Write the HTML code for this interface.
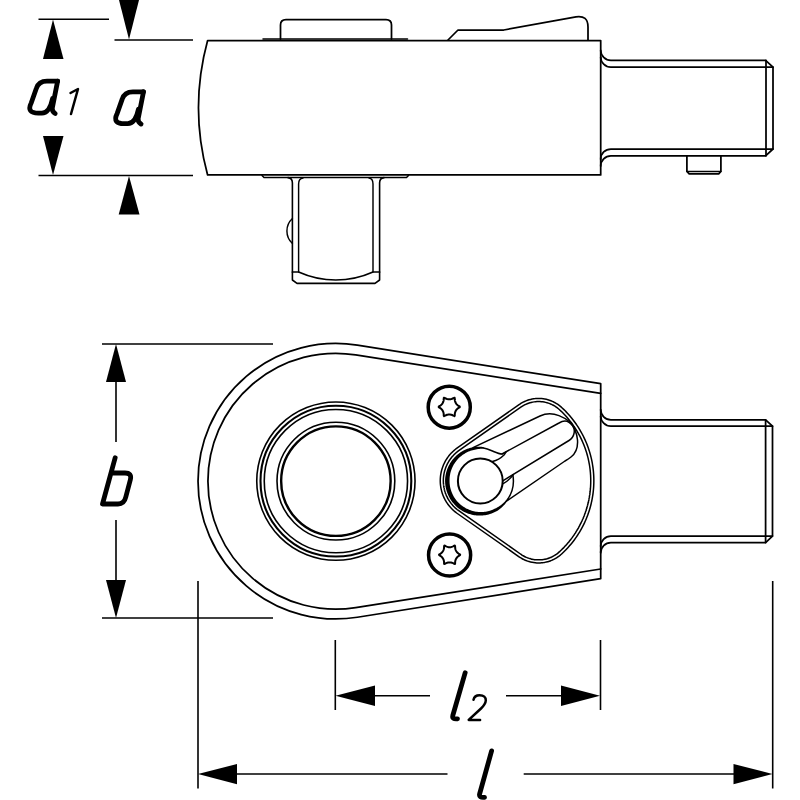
<!DOCTYPE html>
<html>
<head>
<meta charset="utf-8">
<title>Ratchet insert tool - dimension drawing</title>
<style>
  html, body { margin: 0; padding: 0; background: #ffffff; }
  body { width: 800px; height: 800px; overflow: hidden; font-family: "Liberation Sans", sans-serif; }
  svg { display: block; }
  .o  { fill: none; stroke: #000; stroke-width: 1.75; stroke-linecap: round; stroke-linejoin: round; }
  .t  { fill: none; stroke: #000; stroke-width: 1.5; stroke-linecap: round; stroke-linejoin: round; }
  .d  { fill: none; stroke: #000; stroke-width: 1.6; stroke-linecap: butt; }
  .k  { fill: none; stroke: #000; stroke-width: 3.5; stroke-linecap: round; }
  .ar { fill: #000; stroke: none; }
  .L  { fill: none; stroke: #000; stroke-width: 4.8; stroke-linecap: round; stroke-linejoin: round; }
  .S  { fill: none; stroke: #000; stroke-width: 2.5; stroke-linecap: round; stroke-linejoin: round; }
</style>
</head>
<body>
<svg width="800" height="800" viewBox="0 0 800 800">
<rect x="0" y="0" width="800" height="800" fill="#ffffff"/>

<!-- ============ SIDE VIEW (top) ============ -->
<g id="side">
  <!-- main body -->
  <path class="o" d="M207.6,40.5 L600.7,40.5 L600.7,174.9 L207.6,174.9 A256,256 0 0 1 207.6,40.5 Z"/>
  <!-- top button -->
  <path class="o" d="M280.5,39 L280.5,25 Q280.5,19.5 286,19.5 L386,19.5 Q391.5,19.5 391.5,25 L391.5,39"/>
  <path class="t" d="M263,39 L407.5,39"/>
  <!-- lever -->
  <path class="o" d="M448,40 L458,30 L503.75,30 L576,16.8 Q588,15 588,27 L588,40"/>
  <!-- shaft -->
  <path class="o" d="M600.7,50.3 A10.2,10.2 0 0 0 610.9,60.4 L765.6,60.4 L773,67.2 L773,149 L765.6,155.8 L610.9,155.8 A10.2,10.2 0 0 0 600.7,166"/>
  <path class="o" d="M600.7,57 A10.2,10.2 0 0 0 610.9,67.2 L773,67.2"/>
  <path class="o" d="M600.7,159.2 A10.2,10.2 0 0 1 610.9,149 L773,149"/>
  <path class="o" d="M766,60.4 L766,155.8"/>
  <!-- pin -->
  <path class="o" d="M686.9,155.8 L686.9,171.4 L689.2,173.8 L718.7,173.8 L720.9,171.4 L720.9,155.8"/>
  <path class="t" d="M686.9,171.4 L720.9,171.4"/>
  <!-- bottom plate -->
  <path class="t" d="M262,175.5 L264,177.6 L406.5,177.6 L408.5,175.5"/>
  <!-- square drive -->
  <g style="stroke-width:1.45">
  <path class="o" style="stroke-width:1.6" d="M288,177.6 Q292.4,178 292.4,183 L292.4,280 L297,283.4 L375,283.4 L379.6,280 L379.6,183 Q379.6,178 384,177.6"/>
  <path class="o" style="stroke-width:inherit" d="M303,178 Q298.6,178.5 298.6,184 L298.6,272"/>
  <path class="o" style="stroke-width:inherit" d="M369,178 Q373,178.5 373,184 L373,272"/>
  <path class="o" style="stroke-width:1.7" d="M292.4,272 L298.6,272 A90.5,90.5 0 0 0 373,272 L379.6,272"/>
  <path class="o" style="stroke-width:inherit" d="M292.4,218.5 A17,17 0 0 0 292.4,243.5"/>
  </g>
</g>

<!-- ============ PLAN VIEW (bottom) ============ -->
<g id="plan">
  <!-- outer profile -->
  <path class="o" d="M600.7,383.7 L357.35,345.15 A137.75,137.75 0 1 0 357.35,617.25 L600.7,578.7 Z"/>
  <path class="o" d="M600.7,393.4 L355.68,354.85 A127.9,127.9 0 1 0 355.68,607.55 L600.7,569"/>
  <!-- shaft -->
  <path class="o" d="M600.7,409.6 A10.2,10.2 0 0 0 610.9,419.8 L765.6,419.8 L772.5,426.2 L772.5,536.1 L765.6,542.6 L610.9,542.6 A10.2,10.2 0 0 0 600.7,552.8"/>
  <path class="o" d="M600.7,416 A10.2,10.2 0 0 0 610.9,426.2 L772.5,426.2"/>
  <path class="o" d="M600.7,546.3 A10.2,10.2 0 0 1 610.9,536.1 L772.5,536.1"/>
  <path class="o" d="M765.6,419.8 L765.6,542.6"/>
  <!-- drive rings -->
  <g fill="none" stroke="#000">
    <circle cx="335.9" cy="481.1" r="79.15" stroke-width="1.6"/>
    <circle cx="335.9" cy="481.1" r="75.4" stroke-width="2.1"/>
    <circle cx="335.9" cy="481.1" r="71.65" stroke-width="1.6"/>
    <circle cx="335.9" cy="481.1" r="58.9" stroke-width="1.6"/>
    <circle cx="335.9" cy="481.1" r="54.75" stroke-width="2.4"/>
  </g>
  <!-- screws -->
  <circle class="k" cx="449.25" cy="407.2" r="21.05"/>
  <circle class="k" cx="449.6" cy="555" r="21.05"/>
  <path class="t" style="stroke-width:2.0" d="M458.72,407.82 L458.19,408.15 L457.68,408.54 L457.2,408.96 L456.76,409.41 L456.36,409.91 L456,410.43 L455.68,410.98 L455.41,411.55 L455.18,412.15 L455.01,412.76 L454.88,413.38 L454.8,414.01 L454.78,414.65 Q455.16,417.14 453.19,415.56 L452.63,415.27 L452.05,415.02 L451.45,414.81 L450.83,414.66 L450.2,414.56 L449.57,414.51 L448.93,414.51 L448.3,414.56 L447.67,414.66 L447.05,414.81 L446.45,415.02 L445.87,415.27 L445.31,415.56 Q443.34,417.14 443.72,414.65 L443.7,414.01 L443.62,413.38 L443.49,412.76 L443.32,412.15 L443.09,411.55 L442.82,410.98 L442.5,410.43 L442.14,409.91 L441.74,409.41 L441.3,408.96 L440.82,408.54 L440.31,408.15 L439.78,407.82 Q437.43,406.9 439.78,405.98 L440.31,405.65 L440.82,405.26 L441.3,404.84 L441.74,404.39 L442.14,403.89 L442.5,403.37 L442.82,402.82 L443.09,402.25 L443.32,401.65 L443.49,401.04 L443.62,400.42 L443.7,399.79 L443.72,399.15 Q443.34,396.66 445.31,398.24 L445.87,398.53 L446.45,398.78 L447.05,398.99 L447.67,399.14 L448.3,399.24 L448.93,399.29 L449.57,399.29 L450.2,399.24 L450.83,399.14 L451.45,398.99 L452.05,398.78 L452.63,398.53 L453.19,398.24 Q455.16,396.66 454.78,399.15 L454.8,399.79 L454.88,400.42 L455.01,401.04 L455.18,401.65 L455.41,402.25 L455.68,402.82 L456,403.37 L456.36,403.89 L456.76,404.39 L457.2,404.84 L457.68,405.26 L458.19,405.65 L458.72,405.98 Q461.07,406.9 458.72,407.82 Z"/>
  <path class="t" style="stroke-width:2.0" d="M459.07,555.72 L458.54,556.05 L458.03,556.44 L457.55,556.86 L457.11,557.31 L456.71,557.81 L456.35,558.33 L456.03,558.88 L455.76,559.45 L455.53,560.05 L455.36,560.66 L455.23,561.28 L455.15,561.91 L455.13,562.55 Q455.51,565.04 453.54,563.46 L452.98,563.17 L452.4,562.92 L451.8,562.71 L451.18,562.56 L450.55,562.46 L449.92,562.41 L449.28,562.41 L448.65,562.46 L448.02,562.56 L447.4,562.71 L446.8,562.92 L446.22,563.17 L445.66,563.46 Q443.69,565.04 444.07,562.55 L444.05,561.91 L443.97,561.28 L443.84,560.66 L443.67,560.05 L443.44,559.45 L443.17,558.88 L442.85,558.33 L442.49,557.81 L442.09,557.31 L441.65,556.86 L441.17,556.44 L440.66,556.05 L440.13,555.72 Q437.78,554.8 440.13,553.88 L440.66,553.55 L441.17,553.16 L441.65,552.74 L442.09,552.29 L442.49,551.79 L442.85,551.27 L443.17,550.72 L443.44,550.15 L443.67,549.55 L443.84,548.94 L443.97,548.32 L444.05,547.69 L444.07,547.05 Q443.69,544.56 445.66,546.14 L446.22,546.43 L446.8,546.68 L447.4,546.89 L448.02,547.04 L448.65,547.14 L449.28,547.19 L449.92,547.19 L450.55,547.14 L451.18,547.04 L451.8,546.89 L452.4,546.68 L452.98,546.43 L453.54,546.14 Q455.51,544.56 455.13,547.05 L455.15,547.69 L455.23,548.32 L455.36,548.94 L455.53,549.55 L455.76,550.15 L456.03,550.72 L456.35,551.27 L456.71,551.79 L457.11,552.29 L457.55,552.74 L458.03,553.16 L458.54,553.55 L459.07,553.88 Q461.42,554.8 459.07,555.72 Z"/>
  <!-- lever housing (double line) -->
  <path d="M441.8,480.7 L441.82,479.43 L441.88,478.15 L441.99,476.89 L442.14,475.62 L442.33,474.36 L442.56,473.11 L442.83,471.86 L443.14,470.63 L443.49,469.41 L443.89,468.19 L444.32,467 L444.79,465.81 L445.31,464.65 L445.86,463.5 L446.44,462.37 L447.07,461.26 L447.73,460.17 L448.43,459.11 L449.16,458.06 L449.92,457.05 L450.72,456.05 L451.55,455.09 L452.42,454.15 L453.31,453.24 L454.23,452.37 L455.18,451.52 L456.16,450.71 L457.17,449.92 L458.2,449.18 L519.94,405.89 L521.21,405.05 L522.51,404.27 L523.84,403.54 L525.21,402.89 L526.6,402.3 L528.03,401.77 L529.47,401.31 L530.94,400.92 L532.42,400.59 L533.91,400.34 L535.42,400.16 L536.93,400.04 L538.45,400 L539.96,400.03 L541.48,400.13 L542.99,400.3 L544.48,400.54 L545.97,400.85 L547.44,401.22 L548.89,401.67 L550.31,402.18 L551.72,402.76 L553.09,403.41 L554.43,404.12 L555.74,404.89 L557.01,405.72 L558.24,406.6 L559.42,407.55 L560.57,408.55 L562.6,410.47 L564.58,412.44 L566.5,414.48 L568.36,416.56 L570.17,418.7 L571.91,420.89 L573.58,423.13 L575.19,425.42 L576.74,427.75 L578.22,430.12 L579.63,432.54 L580.97,434.99 L582.24,437.48 L583.44,440.01 L584.57,442.57 L585.62,445.16 L586.6,447.79 L587.5,450.43 L588.33,453.11 L589.08,455.8 L589.75,458.52 L590.35,461.25 L590.86,464 L591.3,466.76 L591.66,469.53 L591.94,472.32 L592.14,475.11 L592.26,477.9 L592.3,480.7 L592.26,483.5 L592.14,486.29 L591.94,489.08 L591.66,491.87 L591.3,494.64 L590.86,497.4 L590.35,500.15 L589.75,502.88 L589.08,505.6 L588.33,508.29 L587.5,510.97 L586.6,513.61 L585.62,516.24 L584.57,518.83 L583.44,521.39 L582.24,523.92 L580.97,526.41 L579.63,528.86 L578.22,531.28 L576.74,533.65 L575.19,535.98 L573.58,538.27 L571.91,540.51 L570.17,542.7 L568.36,544.84 L566.5,546.92 L564.58,548.96 L562.6,550.93 L560.57,552.85 L559.42,553.85 L558.24,554.8 L557.01,555.68 L555.74,556.51 L554.43,557.28 L553.09,557.99 L551.72,558.64 L550.31,559.22 L548.89,559.73 L547.44,560.18 L545.97,560.55 L544.48,560.86 L542.99,561.1 L541.48,561.27 L539.96,561.37 L538.45,561.4 L536.93,561.36 L535.42,561.24 L533.91,561.06 L532.42,560.81 L530.94,560.48 L529.47,560.09 L528.03,559.63 L526.6,559.1 L525.21,558.51 L523.84,557.86 L522.51,557.13 L521.21,556.35 L519.94,555.51 L458.2,512.22 L457.17,511.48 L456.16,510.69 L455.18,509.88 L454.23,509.03 L453.31,508.16 L452.42,507.25 L451.55,506.31 L450.72,505.35 L449.92,504.35 L449.16,503.34 L448.43,502.29 L447.73,501.23 L447.07,500.14 L446.44,499.03 L445.86,497.9 L445.31,496.75 L444.79,495.59 L444.32,494.4 L443.89,493.21 L443.49,491.99 L443.14,490.77 L442.83,489.54 L442.56,488.29 L442.33,487.04 L442.14,485.78 L441.99,484.51 L441.88,483.25 L441.82,481.97 Z" fill="#fff" stroke="#000" stroke-width="4.6" stroke-linejoin="round"/>
  <path d="M441.8,480.7 L441.82,479.43 L441.88,478.15 L441.99,476.89 L442.14,475.62 L442.33,474.36 L442.56,473.11 L442.83,471.86 L443.14,470.63 L443.49,469.41 L443.89,468.19 L444.32,467 L444.79,465.81 L445.31,464.65 L445.86,463.5 L446.44,462.37 L447.07,461.26 L447.73,460.17 L448.43,459.11 L449.16,458.06 L449.92,457.05 L450.72,456.05 L451.55,455.09 L452.42,454.15 L453.31,453.24 L454.23,452.37 L455.18,451.52 L456.16,450.71 L457.17,449.92 L458.2,449.18 L519.94,405.89 L521.21,405.05 L522.51,404.27 L523.84,403.54 L525.21,402.89 L526.6,402.3 L528.03,401.77 L529.47,401.31 L530.94,400.92 L532.42,400.59 L533.91,400.34 L535.42,400.16 L536.93,400.04 L538.45,400 L539.96,400.03 L541.48,400.13 L542.99,400.3 L544.48,400.54 L545.97,400.85 L547.44,401.22 L548.89,401.67 L550.31,402.18 L551.72,402.76 L553.09,403.41 L554.43,404.12 L555.74,404.89 L557.01,405.72 L558.24,406.6 L559.42,407.55 L560.57,408.55 L562.6,410.47 L564.58,412.44 L566.5,414.48 L568.36,416.56 L570.17,418.7 L571.91,420.89 L573.58,423.13 L575.19,425.42 L576.74,427.75 L578.22,430.12 L579.63,432.54 L580.97,434.99 L582.24,437.48 L583.44,440.01 L584.57,442.57 L585.62,445.16 L586.6,447.79 L587.5,450.43 L588.33,453.11 L589.08,455.8 L589.75,458.52 L590.35,461.25 L590.86,464 L591.3,466.76 L591.66,469.53 L591.94,472.32 L592.14,475.11 L592.26,477.9 L592.3,480.7 L592.26,483.5 L592.14,486.29 L591.94,489.08 L591.66,491.87 L591.3,494.64 L590.86,497.4 L590.35,500.15 L589.75,502.88 L589.08,505.6 L588.33,508.29 L587.5,510.97 L586.6,513.61 L585.62,516.24 L584.57,518.83 L583.44,521.39 L582.24,523.92 L580.97,526.41 L579.63,528.86 L578.22,531.28 L576.74,533.65 L575.19,535.98 L573.58,538.27 L571.91,540.51 L570.17,542.7 L568.36,544.84 L566.5,546.92 L564.58,548.96 L562.6,550.93 L560.57,552.85 L559.42,553.85 L558.24,554.8 L557.01,555.68 L555.74,556.51 L554.43,557.28 L553.09,557.99 L551.72,558.64 L550.31,559.22 L548.89,559.73 L547.44,560.18 L545.97,560.55 L544.48,560.86 L542.99,561.1 L541.48,561.27 L539.96,561.37 L538.45,561.4 L536.93,561.36 L535.42,561.24 L533.91,561.06 L532.42,560.81 L530.94,560.48 L529.47,560.09 L528.03,559.63 L526.6,559.1 L525.21,558.51 L523.84,557.86 L522.51,557.13 L521.21,556.35 L519.94,555.51 L458.2,512.22 L457.17,511.48 L456.16,510.69 L455.18,509.88 L454.23,509.03 L453.31,508.16 L452.42,507.25 L451.55,506.31 L450.72,505.35 L449.92,504.35 L449.16,503.34 L448.43,502.29 L447.73,501.23 L447.07,500.14 L446.44,499.03 L445.86,497.9 L445.31,496.75 L444.79,495.59 L444.32,494.4 L443.89,493.21 L443.49,491.99 L443.14,490.77 L442.83,489.54 L442.56,488.29 L442.33,487.04 L442.14,485.78 L441.99,484.51 L441.88,483.25 L441.82,481.97 Z" fill="none" stroke="#fff" stroke-width="1.6" stroke-linejoin="round"/>
  <!-- lever -->
  <g id="lever">
    <path d="M483.83,447.19 L482.66,447.01 L481.48,446.87 L480.3,446.77 L479.11,446.71 L477.92,446.7 L476.72,446.73 L475.52,446.79 L474.33,446.95 L473.15,447.15 L471.97,447.4 L470.8,447.68 L469.65,448.01 L468.5,448.38 L467.36,448.78 L466.24,449.23 L465.14,449.72 L464.05,450.24 L462.99,450.81 L461.94,451.42 L460.91,452.06 L459.91,452.73 L458.93,453.45 L457.97,454.19 L457.04,454.97 L456.14,455.78 L455.27,456.63 L454.43,457.5 L453.61,458.41 L452.83,459.34 L452.08,460.3 L451.37,461.28 L450.68,462.29 L450.04,463.33 L449.43,464.39 L448.86,465.46 L448.32,466.56 L447.82,467.68 L447.37,468.81 L446.95,469.96 L446.57,471.13 L446.23,472.31 L445.94,473.5 L445.68,474.7 L445.47,475.9 L445.3,477.12 L445.17,478.34 L445.08,479.57 L445.05,480.8 L445.08,482.03 L445.15,483.26 L445.26,484.48 L445.42,485.7 L445.62,486.92 L445.86,488.12 L446.14,489.32 L446.47,490.5 L446.83,491.67 L447.24,492.83 L447.69,493.98 L448.17,495.1 L448.7,496.21 L449.26,497.31 L449.86,498.38 L450.5,499.42 L451.17,500.45 L451.88,501.45 L452.62,502.42 L453.4,503.37 L454.21,504.29 L455.05,505.19 L455.92,506.05 L456.82,506.88 L457.75,507.68 L458.7,508.44 L459.68,509.17 L460.69,509.87 L461.72,510.53 L462.77,511.16 L463.85,511.74 L464.95,512.28 L466.06,512.78 L467.19,513.24 L468.34,513.66 L469.5,514.03 L470.67,514.37 L471.86,514.67 L473.05,514.92 L474.25,515.14 L475.45,515.31 L476.66,515.44 L477.87,515.53 L479.09,515.57 L480.3,515.57 L481.51,515.53 L482.72,515.45 L483.93,515.32 L485.13,515.16 L486.32,514.95 L487.51,514.7 L488.68,514.41 L489.84,514.08 L490.99,513.7 L492.13,513.29 L493.25,512.84 L494.35,512.35 L495.43,511.83 L496.5,511.26 L497.52,510.63 L498.52,509.96 L499.49,509.25 L500.43,508.51 L501.35,507.74 L502.24,506.94 L503.09,506.12 L503.92,505.26 L504.71,504.38 L505.47,503.47 L506.2,502.53 L506.9,501.58 L505.71,500.66 L504.96,501.49 L504.17,502.3 L503.36,503.07 L502.53,503.82 L501.67,504.53 L500.79,505.22 L499.88,505.87 L498.96,506.48 L498.02,507.07 L497.06,507.62 L496.08,508.13 L495.09,508.61 L494.1,509.09 L493.1,509.54 L492.08,509.95 L491.05,510.33 L490,510.66 L488.95,510.97 L487.89,511.23 L486.82,511.46 L485.74,511.65 L484.66,511.8 L483.57,511.91 L482.48,511.99 L481.39,512.03 L480.3,512.03 L479.21,511.99 L478.12,511.91 L477.04,511.8 L475.96,511.65 L474.89,511.46 L473.83,511.23 L472.78,510.97 L471.73,510.67 L470.7,510.34 L469.69,509.96 L468.68,509.56 L467.69,509.12 L466.72,508.64 L465.77,508.14 L464.83,507.6 L463.9,507.04 L463,506.45 L462.12,505.82 L461.26,505.17 L460.43,504.48 L459.62,503.77 L458.83,503.03 L458.08,502.26 L457.35,501.47 L456.64,500.65 L455.97,499.81 L455.33,498.94 L454.71,498.06 L454.13,497.15 L453.58,496.22 L453.07,495.28 L452.58,494.32 L452.14,493.34 L451.72,492.35 L451.34,491.34 L451,490.32 L450.69,489.29 L450.42,488.25 L450.18,487.2 L449.98,486.15 L449.82,485.08 L449.7,484.02 L449.61,482.95 L449.56,481.87 L449.55,480.8 L449.56,479.73 L449.59,478.65 L449.66,477.58 L449.77,476.51 L449.92,475.44 L450.11,474.38 L450.33,473.33 L450.59,472.28 L450.88,471.24 L451.21,470.21 L451.58,469.2 L451.99,468.19 L452.42,467.2 L452.9,466.23 L453.4,465.27 L453.94,464.33 L454.52,463.41 L455.12,462.51 L455.76,461.63 L456.43,460.77 L457.13,459.93 L457.85,459.12 L458.61,458.34 L459.39,457.58 L460.2,456.85 L461.04,456.14 L461.9,455.47 L462.78,454.83 L463.69,454.21 L464.61,453.63 L465.56,453.08 L466.53,452.56 L467.51,452.07 L468.51,451.62 L469.53,451.2 L470.56,450.82 L471.6,450.47 L472.66,450.16 L473.73,449.89 L474.81,449.65 L475.89,449.45 L476.98,449.24 L478.08,449.06 L479.19,448.93 L480.3,448.83 L481.42,448.77 L482.54,448.76 L483.67,448.78 Z" fill="#000" stroke="none"/>
    <path class="t" d="M506.3,501.1 A33,33 0 0 0 512.8,474.7"/>
    <path class="t" d="M503.2,483.6 Q509,480.6 513.3,474.6"/>
    <circle cx="480.3" cy="481" r="22.4" fill="none" stroke="#000" stroke-width="2.0"/>
    <!-- outer arm -->
    <path class="t" d="M473,447.6 L540,416 C546,413.2 553,413.3 559,415.6 C563.5,417.3 567,419.5 570,422 C574,426.5 576.8,433 577.5,440 C578,447 575.5,453.5 571,457 Q568.5,459 565,461 L506.4,501.2"/>
    <!-- ridge -->
    <path class="t" d="M502,454 L559,423 C562,421.2 566,420.4 569,422.3 C573,424.8 575,429 574,433.5 C573.3,436.8 571.5,439 569,440.5 L502.8,480.8"/>
    <!-- blends -->
    <path class="t" d="M483.5,448 C487,448.6 490,450 493.5,451.5 C497,453 499.5,454 502,454"/>
    <path class="t" d="M492.5,461.5 Q499,460 504,455 L506,452"/>
  </g>

</g>

<!-- ============ DIMENSIONS ============ -->
<g id="dims">
  <!-- a1 -->
  <path class="d" d="M38.5,19.3 L109,19.3"/>
  <path class="d" d="M38.5,175.5 L193,175.5"/>
  <path class="ar" d="M53,19.5 L63.5,59 L43,59 Z"/>
  <path class="ar" d="M53,175 L63.5,136 L43,136 Z"/>
  <!-- a -->
  <path class="d" d="M114.5,40 L193,40"/>
  <path class="ar" d="M129,39.5 L139,0 L119,0 Z"/>
  <path class="ar" d="M129,176 L139.5,214.5 L118.7,214.5 Z"/>
  <!-- b -->
  <path class="d" d="M102,344 L273,344"/>
  <path class="d" d="M102,618 L273,618"/>
  <path class="d" d="M116,380 L116,442"/>
  <path class="d" d="M116,520 L116,582"/>
  <path class="ar" d="M116,344 L126,382 L106,382 Z"/>
  <path class="ar" d="M116,618 L126,580 L106,580 Z"/>
  <!-- l2 -->
  <path class="d" d="M335.3,640 L335.3,710"/>
  <path class="d" d="M600.5,640 L600.5,710"/>
  <path class="d" d="M373,695.7 L430,695.7"/>
  <path class="d" d="M506,695.7 L563,695.7"/>
  <path class="ar" d="M335.5,695.7 L375,685.5 L375,706 Z"/>
  <path class="ar" d="M600,695.7 L561,685.5 L561,706 Z"/>
  <!-- l -->
  <path class="d" d="M198,581 L198,788.5"/>
  <path class="d" d="M772.7,581 L772.7,788.5"/>
  <path class="d" d="M235,774 L447.5,774"/>
  <path class="d" d="M523.7,774 L735,774"/>
  <path class="ar" d="M198,774 L237,764 L237,784.3 Z"/>
  <path class="ar" d="M772.5,774 L733.5,764 L733.5,784.3 Z"/>
</g>

<!-- ============ LETTERS ============ -->
<g id="letters">
  <!-- a (of a1) -->
  <g id="la">
    <path class="L" d="M57.6,81.2 L47,81.2 Q38.6,81.2 36.3,88.5 L31.2,103 Q26.2,113.2 38.5,113.1 L41.9,113.1 Q49.5,113.1 52.6,98.5"/>
    <path class="L" d="M57.6,81.2 L52.3,108 Q51.8,111.5 55.2,113.5"/>
  </g>
  <!-- 1 subscript -->
  <path class="S" d="M70.5,93 L78,89 L71,114"/>
  <!-- a -->
  <g transform="translate(85.9,10.6)">
    <path class="L" d="M57.6,81.2 L47,81.2 Q38.6,81.2 36.3,88.5 L31.2,103 Q26.2,113.2 38.5,113.1 L41.9,113.1 Q49.5,113.1 52.6,98.5"/>
    <path class="L" d="M57.6,81.2 L52.3,108 Q51.8,111.5 55.2,113.5"/>
  </g>
  <!-- b -->
  <path class="L" d="M115.2,457.7 L102.5,504 L118,504 Q124.2,504 125.8,497 L130.4,479.5 Q132,473 125,473 L111.5,473"/>
  <!-- l2 -->
  <path class="L" d="M465.2,672.7 L452.8,715.5 Q451.8,719.5 457.5,718.8"/>
  <path class="S" d="M473.5,699.8 Q474.5,695.3 479.5,695.3 Q486,695.3 485.8,700.5 Q485.6,704 481,708.5 L468.7,719.9 L480.1,719.9"/>
  <!-- l -->
  <path class="L" d="M491.6,750.9 L479.6,794 Q478.7,798 484.5,797.3"/>
</g>
</svg>
</body>
</html>
